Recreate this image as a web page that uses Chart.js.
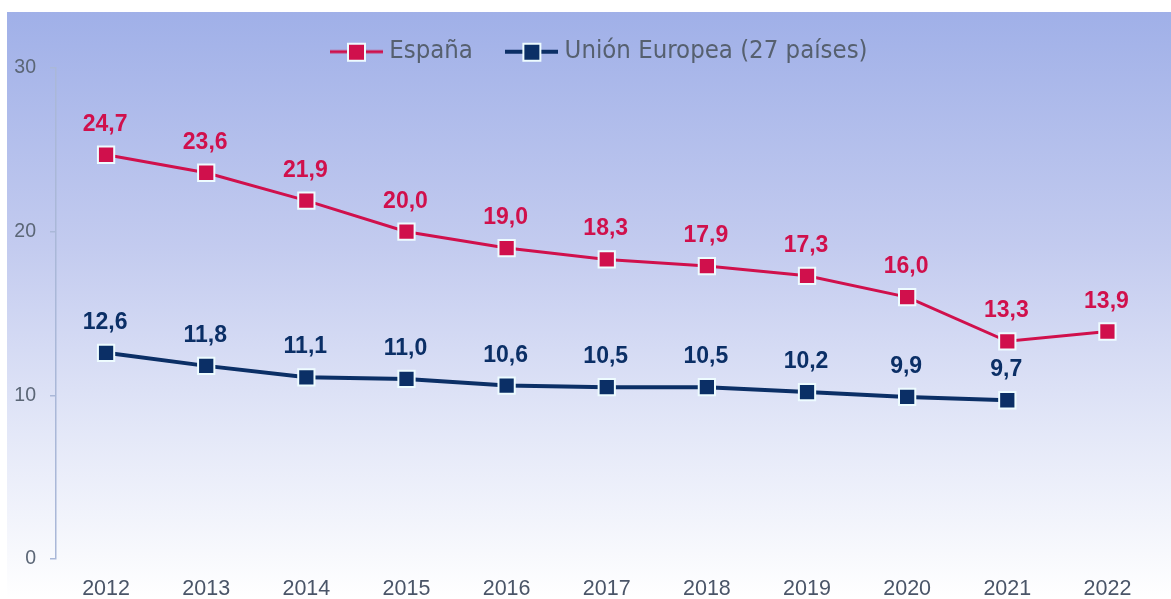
<!DOCTYPE html>
<html>
<head>
<meta charset="utf-8">
<script src="https://cdn.jsdelivr.net/npm/chart.js@4/dist/chart.umd.min.js"></script>
<style>
  html, body { margin: 0; padding: 0; background: #fff; overflow: hidden; }
  #bg {
    position: absolute; left: 7px; top: 12px; right: 0; bottom: 0;
    background: linear-gradient(#a0b0e8 0%, #c3cbef 40%, #e4e8f8 72%, #ffffff 100%);
  }
  #chart { position: absolute; left: 0; top: 0; }
</style>
</head>
<body>
<div id="bg"></div>
<canvas id="chart" width="1171" height="599"></canvas>
<script>
// datos
const years = ['2012', '2013', '2014', '2015', '2016', '2017', '2018', '2019', '2020', '2021', '2022'];
const espana = [24.7, 23.6, 21.9, 20.0, 19.0, 18.3, 17.9, 17.3, 16.0, 13.3, 13.9];
const ue27 = [12.6, 11.8, 11.1, 11.0, 10.6, 10.5, 10.5, 10.2, 9.9, 9.7, null];
const yTicks = [0, 10, 20, 30];

const ROJO = '#d0104c';
const AZUL = '#0b2f66';
const BORDE = '#eefcff';

// icono de leyenda: linea + cuadrado
function legendIcon(color, lw) {
  const c = document.createElement('canvas');
  c.width = 53;
  c.height = 22;
  const g = c.getContext('2d');
  g.strokeStyle = color;
  g.lineWidth = lw;
  g.beginPath();
  g.moveTo(0, 11);
  g.lineTo(53, 11);
  g.stroke();
  g.fillStyle = color;
  g.fillRect(18, 3, 17, 17);
  g.strokeStyle = BORDE;
  g.lineWidth = 2;
  g.strokeRect(18, 3, 17, 17);
  return c;
}
const icons = [legendIcon(ROJO, 3), legendIcon(AZUL, 4)];

const fmt = v => v.toFixed(1).replace('.', ',');

const valueLabels = {
  id: 'valueLabels',
  afterDatasetsDraw(chart) {
    const ctx = chart.ctx;
    ctx.save();
    ctx.font = 'bold 23px "Liberation Sans", Arial, sans-serif';
    ctx.textAlign = 'center';
    ctx.textBaseline = 'alphabetic';
    chart.data.datasets.forEach((ds, i) => {
      const meta = chart.getDatasetMeta(i);
      ctx.fillStyle = ds.borderColor;
      meta.data.forEach((pt, j) => {
        const v = ds.data[j];
        if (v == null) return;
        ctx.fillText(fmt(v), pt.x - 1, pt.y - 24);
      });
    });
    ctx.restore();
  }
};

// la leyenda va un poco a la derecha del centro
const legendShift = {
  id: 'legendShift',
  afterLayout(chart) {
    if (chart.legend) {
      chart.legend.left += 18;
      chart.legend.right += 18;
    }
  }
};

const ctx = document.getElementById('chart').getContext('2d');
new Chart(ctx, {
  type: 'line',
  data: {
    labels: years,
    datasets: [
      {
        label: 'España',
        data: espana,
        borderColor: ROJO,
        backgroundColor: ROJO,
        borderWidth: 3,
        pointStyle: 'rect',
        pointRadius: 11.5,
        pointHoverRadius: 11.5,
        pointBorderWidth: 2,
        pointBorderColor: BORDE,
        pointBackgroundColor: ROJO,
        tension: 0
      },
      {
        label: 'Unión Europea (27 países)',
        data: ue27,
        borderColor: AZUL,
        backgroundColor: AZUL,
        borderWidth: 4,
        pointStyle: 'rect',
        pointRadius: 11.5,
        pointHoverRadius: 11.5,
        pointBorderWidth: 2,
        pointBorderColor: BORDE,
        pointBackgroundColor: AZUL,
        tension: 0
      }
    ]
  },
  options: {
    responsive: false,
    animation: false,
    layout: { padding: { left: 0, right: 3, top: 0, bottom: 0 } },
    plugins: {
      tooltip: { enabled: false },
      legend: {
        position: 'top',
        align: 'center',
        maxHeight: 68,
        labels: {
          usePointStyle: true,
          pointStyleWidth: 40,
          padding: 39,
          color: '#56606f',
          font: { size: 25.5, family: '"DejaVu Sans Condensed", "Liberation Sans", sans-serif' },
          generateLabels(chart) {
            const items = Chart.defaults.plugins.legend.labels.generateLabels(chart);
            items.forEach(it => { it.pointStyle = icons[it.datasetIndex]; });
            return items;
          }
        }
      }
    },
    scales: {
      x: {
        offset: true,
        grid: { display: false, drawTicks: false },
        border: { display: false },
        ticks: {
          padding: 17,
          color: '#4a5568',
          font: { size: 21.5, family: '"Liberation Sans", Arial, sans-serif' }
        },
        afterFit(s) { s.height = 40; }
      },
      y: {
        min: 0,
        max: 30,
        afterBuildTicks(s) { s.ticks = yTicks.map(v => ({ value: v })); },
        grid: { drawOnChartArea: false, drawTicks: true, tickLength: 6, color: '#aab8d8', lineWidth: 1.5 },
        border: { display: true, color: '#aab8d8', width: 1.5 },
        ticks: {
          padding: 14,
          color: '#5b6676',
          font: { size: 19.5, family: '"Liberation Sans", Arial, sans-serif' }
        },
        afterFit(s) { s.width = 56; }
      }
    }
  },
  plugins: [valueLabels, legendShift]
});
</script>
</body>
</html>
